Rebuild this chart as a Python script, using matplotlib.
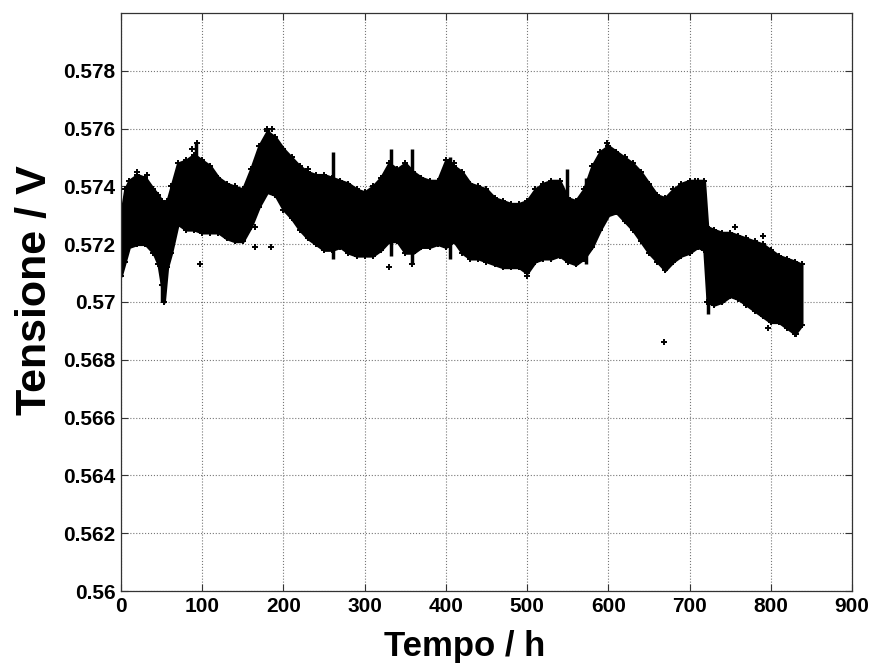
import numpy as np
import matplotlib.pyplot as plt
from matplotlib.ticker import FormatStrFormatter, MultipleLocator

tempo = [0, 5, 10, 20, 30, 40, 46, 50, 53, 57, 62, 70, 80, 90, 100, 110,
         120, 130, 140, 150, 160, 170, 180, 190, 200, 210, 220, 230, 240,
         250, 260, 270, 280, 290, 300, 310, 320, 330, 340, 350, 360, 370,
         380, 390, 400, 410, 420, 430, 440, 450, 460, 470, 480, 490, 500,
         510, 520, 530, 540, 550, 560, 570, 580, 590, 600, 610, 620, 630,
         640, 650, 660, 670, 680, 690, 700, 710, 718, 722, 730, 740, 750,
         760, 770, 780, 790, 800, 810, 820, 830, 838]
tens_sup = [0.5730, 0.5739, 0.5742, 0.5744, 0.5743, 0.5739, 0.5737, 0.5735,
            0.5734, 0.5735, 0.5740, 0.5748, 0.5749, 0.5751, 0.5749, 0.5747,
            0.5743, 0.5741, 0.5740, 0.5739, 0.5746, 0.5754, 0.5759, 0.5757,
            0.5753, 0.5750, 0.5747, 0.5745, 0.5744, 0.5744, 0.5743, 0.5742,
            0.5741, 0.5739, 0.5738, 0.5740, 0.5743, 0.5748, 0.5746, 0.5748,
            0.5745, 0.5743, 0.5742, 0.5742, 0.5749, 0.5747, 0.5745, 0.5741,
            0.5740, 0.5739, 0.5736, 0.5735, 0.5734, 0.5734, 0.5735, 0.5739,
            0.5741, 0.5742, 0.5742, 0.5736, 0.5735, 0.5739, 0.5747, 0.5752,
            0.5754, 0.5752, 0.5750, 0.5748, 0.5745, 0.5741, 0.5737, 0.5736,
            0.5739, 0.5741, 0.5742, 0.5742, 0.5742, 0.5726, 0.5725, 0.5724,
            0.5724, 0.5723, 0.5722, 0.5721, 0.5720, 0.5718, 0.5716, 0.5715,
            0.5714, 0.5713]
tens_inf = [0.5709, 0.5714, 0.5719, 0.5720, 0.5720, 0.5717, 0.5713, 0.5706,
            0.5700, 0.5712, 0.5717, 0.5727, 0.5725, 0.5725, 0.5724, 0.5724,
            0.5724, 0.5722, 0.5721, 0.5721, 0.5726, 0.5733, 0.5738, 0.5737,
            0.5732, 0.5729, 0.5725, 0.5722, 0.5720, 0.5718, 0.5718, 0.5719,
            0.5717, 0.5716, 0.5716, 0.5716, 0.5718, 0.5721, 0.5721, 0.5717,
            0.5717, 0.5719, 0.5719, 0.5720, 0.5719, 0.5721, 0.5717, 0.5715,
            0.5715, 0.5714, 0.5713, 0.5712, 0.5712, 0.5712, 0.5710, 0.5714,
            0.5715, 0.5715, 0.5716, 0.5714, 0.5713, 0.5715, 0.5719, 0.5725,
            0.5730, 0.5731, 0.5728, 0.5725, 0.5721, 0.5717, 0.5714, 0.5711,
            0.5714, 0.5716, 0.5717, 0.5719, 0.5718, 0.5700, 0.5699, 0.5700,
            0.5702, 0.5701, 0.5699, 0.5697, 0.5695, 0.5693, 0.5693, 0.5691,
            0.5689, 0.5692]

# narrow vertical streaks of points: time, lowest, highest
streak_t = [51, 93, 181, 261, 333, 358, 405, 549, 573, 598, 723]
streak_lo = [0.5700, 0.5735, 0.5745, 0.5715, 0.5716, 0.5713, 0.5715, 0.5716,
             0.5713, 0.5740, 0.5696]
streak_hi = [0.5730, 0.5755, 0.5760, 0.5752, 0.5753, 0.5753, 0.5750, 0.5746,
             0.5743, 0.5755, 0.5718]

# isolated points
iso_t = [20, 32, 88, 94, 97, 165, 165, 180, 186, 185, 230, 330, 358, 410,
         500, 598, 668, 707, 756, 791, 797, 831]
iso_v = [0.5745, 0.5744, 0.5753, 0.5755, 0.5713, 0.5726, 0.5719, 0.5760,
         0.5760, 0.5719, 0.5746, 0.5712, 0.5713, 0.5748, 0.5709, 0.5755,
         0.5686, 0.5742, 0.5726, 0.5723, 0.5691, 0.5689]

plt.rcParams['font.family'] = ['Liberation Sans', 'DejaVu Sans']
plt.rcParams['font.weight'] = 'bold'

fig = plt.figure(figsize=(8.74, 6.66), dpi=100)
ax = fig.add_axes([0.1384, 0.1126, 0.8364, 0.8679])

ax.fill_between(tempo, tens_inf, tens_sup, facecolor='k', edgecolor='k', lw=2)
ax.vlines(streak_t, streak_lo, streak_hi, color='k', lw=2.5)
# measured points sitting on the edges of the band
ax.plot(tempo, tens_sup, 'k+', ms=5, mew=1.4, ls='none')
ax.plot(tempo, tens_inf, 'k+', ms=5, mew=1.4, ls='none')
ax.plot(iso_t, iso_v, 'k+', ms=4.5, mew=1.4, ls='none')

ax.set_xlim(0, 900)
ax.set_ylim(0.56, 0.58)
ax.xaxis.set_major_locator(MultipleLocator(100))
ax.set_yticks(np.arange(0.56, 0.5785, 0.002))
ax.yaxis.set_major_formatter(FormatStrFormatter('%g'))
ax.grid(True, ls=':', color='#777777', lw=0.8)
ax.set_axisbelow(True)
ax.tick_params(direction='in', length=5, width=0.8, color='#333333',
               top=True, right=True, labelsize=15, pad=4)
for s in ax.spines.values():
    s.set_color('#333333')
    s.set_linewidth(0.9)

ax.set_xlabel('Tempo / h', fontsize=25, fontweight='bold')
ax.xaxis.set_label_coords(0.47, -0.068)
ax.set_ylabel('Tensione / V', fontsize=31, fontweight='bold')
ax.yaxis.set_label_coords(-0.09, 0.52)

fig.savefig('out.png', dpi=100)
